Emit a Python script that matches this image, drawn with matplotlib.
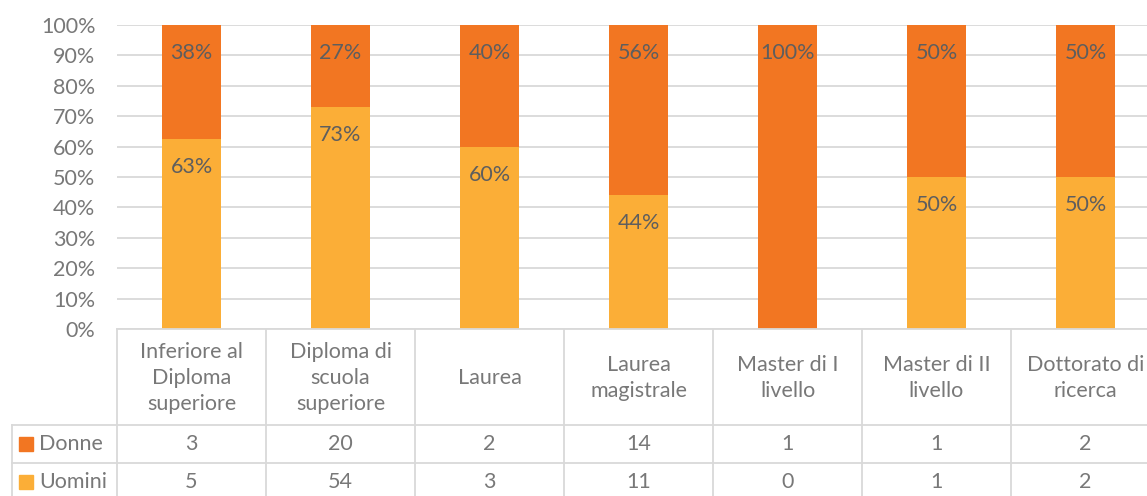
import numpy as np
import matplotlib
matplotlib.use("Agg")
import matplotlib.pyplot as plt

# Counts per titolo di studio
categories = ["Inferiore al\nDiploma\nsuperiore", "Diploma di\nscuola\nsuperiore", "Laurea",
              "Laurea\nmagistrale", "Master di I\nlivello", "Master di II\nlivello",
              "Dottorato di\nricerca"]
donne = [3, 20, 2, 14, 1, 1, 2]
uomini = [5, 54, 3, 11, 0, 1, 2]

c_donne = "#F27622"
c_uomini = "#FBAE37"
grid_c = "#D9D9D9"
txt_c = "#787878"
lbl_c = "#5E5E5E"
fs = 15.5

plt.rcParams["font.family"] = ["Lato", "DejaVu Sans"]

W, H = 1147, 496
fig = plt.figure(figsize=(W / 100, H / 100), dpi=100)

# main plot area (pixel layout converted to figure fractions)
ax = fig.add_axes([117 / W, (H - 329) / H, 1043 / W, 304 / H])
tab = fig.add_axes([117 / W, (H - 500) / H, 1043 / W, 171 / H], sharex=ax)

d = np.array(donne, dtype=float)
u = np.array(uomini, dtype=float)
tot = d + u
pu = u / tot * 100
pd_ = d / tot * 100
x = np.arange(len(categories))


def pct(v):
    # round half up, like the spreadsheet does
    return f"{int(np.floor(v + 0.5))}%"


ax.bar(x, pu, width=0.4, color=c_uomini, zorder=2)
ax.bar(x, pd_, bottom=pu, width=0.4, color=c_donne, zorder=2)

# percentage labels, just inside the top of each segment
for i in range(len(x)):
    if pu[i] > 0:
        ax.text(x[i], pu[i] - 9.2, pct(pu[i]), ha="center", va="center",
                fontsize=fs, color=lbl_c, zorder=3)
    if pd_[i] > 0:
        ax.text(x[i], 100 - 9.2, pct(pd_[i]), ha="center", va="center",
                fontsize=fs, color=lbl_c, zorder=3)

ax.set_xlim(-0.5, len(x) - 0.5)
ax.set_ylim(0, 100)
ax.set_yticks(np.arange(0, 101, 10))
ax.set_yticklabels([f"{v}%" for v in range(0, 101, 10)])
ax.tick_params(axis="y", length=0, pad=15.5, labelsize=fs, labelcolor=txt_c)
ax.tick_params(axis="x", length=0, labelbottom=False)
ax.yaxis.grid(True, color=grid_c, linewidth=1.3, zorder=0)
for s in ax.spines.values():
    s.set_visible(False)

# data table under the bars
tab.set_ylim(171, 0)
tab.axis("off")
left_edge = -0.5 - 105 / 149
lw = 1.3
for i in range(len(x) + 1):
    tab.plot([i - 0.5, i - 0.5], [0, 171], color=grid_c, lw=lw, clip_on=False)
tab.plot([-0.5, len(x) - 0.5], [0, 0], color=grid_c, lw=lw, clip_on=False)
for yy in (96, 134, 171):
    tab.plot([left_edge, len(x) - 0.5], [yy, yy], color=grid_c, lw=lw, clip_on=False)
tab.plot([left_edge, left_edge], [96, 171], color=grid_c, lw=lw, clip_on=False)

for i, cat in enumerate(categories):
    tab.text(x[i], 49, cat, ha="center", va="center", fontsize=fs, color=txt_c,
             linespacing=1.35)
    tab.text(x[i], 115, str(donne[i]), ha="center", va="center", fontsize=fs, color=txt_c)
    tab.text(x[i], 153, str(uomini[i]), ha="center", va="center", fontsize=fs, color=txt_c)

for name, col, yy in (("Donne", c_donne, 115), ("Uomini", c_uomini, 153)):
    tab.plot([left_edge + 14 / 149], [yy], marker="s", markersize=9.5, color=col,
             clip_on=False, linestyle="none")
    tab.text(left_edge + 27 / 149, yy, name, ha="left", va="center", fontsize=fs,
             color=txt_c, clip_on=False)

fig.savefig("out.png", dpi=100)
